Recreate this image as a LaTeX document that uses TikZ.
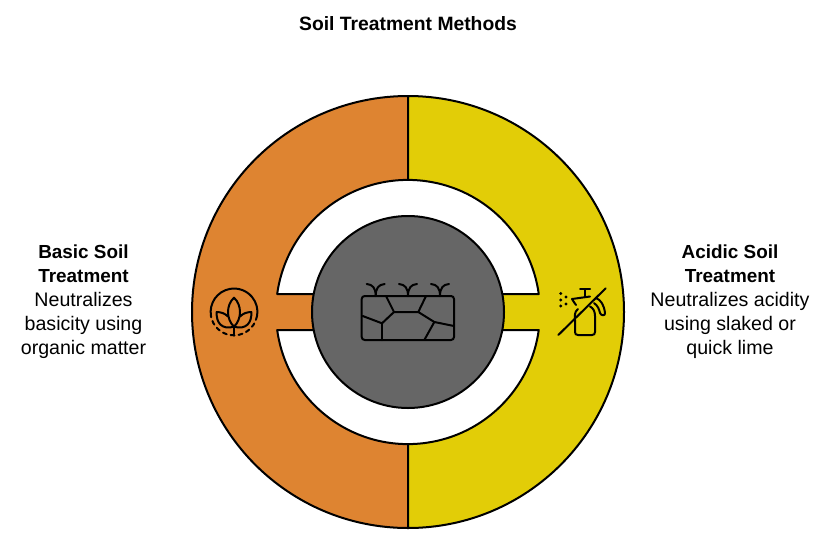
\documentclass[tikz,border=0pt]{standalone}
\usepackage{fontspec}
\setmainfont{Liberation Sans}
\definecolor{orangeseg}{HTML}{DE8431}
\definecolor{yellowseg}{HTML}{E2CD07}
\definecolor{hubgrey}{HTML}{666666}
\newcommand{\bodytxt}{\fontsize{19.6}{24}\selectfont}
\newcommand{\headtxt}{\fontsize{18.9}{24}\selectfont\bfseries}
\tikzset{
  seg/.style={draw=black,line width=2pt,line join=round},
  icon/.style={draw=black,line width=2pt,line cap=round,line join=round},
  lab/.style={align=center,font=\bodytxt,text=black,inner sep=0pt},
}
\begin{document}
\begin{tikzpicture}[x=1pt,y=-1pt]
\useasboundingbox (0,0) rectangle (834,541);
\fill[white] (0,0) rectangle (834,541);
\coordinate (c) at (408,312);
% halves
\path[seg,fill=orangeseg] (408,96) arc[start angle=-90,delta angle=-180,radius=216] -- cycle;
\path[seg,fill=yellowseg] (408,96) arc[start angle=-90,delta angle=180,radius=216] -- cycle;
% white gaps
\path[seg,fill=white] (277.2,294) arc[start angle=187.8,end angle=352.2,radius=132] -- (500,294) -- (316,294) -- cycle;
\path[seg,fill=white] (277.2,330) arc[start angle=172.2,end angle=7.8,radius=132] -- (500,330) -- (316,330) -- cycle;
% hub
\node[circle,draw=black,line width=2pt,fill=hubgrey,minimum size=192pt,inner sep=0pt] (hub) at (c) {};
% soil icon
\draw[icon,rounded corners=3pt] (361.7,296) rectangle (454,340);
\draw[icon] (386,296)--(394,312)--(418.3,312)--(426,296);
\draw[icon] (394,312)--(382,323.3)--(362.7,316);
\draw[icon] (382,323.3)--(382,340);
\draw[icon] (418.3,312)--(434.3,322)--(454,326);
\draw[icon] (434.3,322)--(424.3,340);
\foreach \sx in {375.7,408,440}{
  \draw[icon] (\sx-9,284) .. controls (\sx-3,284.5) and (\sx,288) .. (\sx,296);
  \draw[icon] (\sx+9,284) .. controls (\sx+3,284.5) and (\sx,288) .. (\sx,296);
}
% plant icon
\draw[icon] (211,316) arc[start angle=170,delta angle=200,radius=23.4];
\draw[icon,dash pattern=on 4pt off 4pt] (257,316) arc[start angle=10,delta angle=160,radius=23.4];
\draw[icon] (234,326.7) .. controls (226,319) and (226,305) .. (234,297.7) .. controls (242,305) and (242,319) .. (234,326.7);
\draw[icon] (234,335.7)--(234,326.7);
\draw[icon] (234,326.7) .. controls (222,330) and (216,323) .. (216.7,312) .. controls (221,312) and (225,313.5) .. (228,316.5);
\draw[icon] (234,326.7) .. controls (246,330) and (252,323) .. (251.3,312) .. controls (247,312) and (243,313.5) .. (240,316.5);
% spray icon
\draw[icon] (558.3,335)--(605.7,288.3);
\draw[icon] (580,289)--(590,289);
\draw[icon] (585,289)--(585,297);
\draw[icon] (576,305) .. controls (573,303) and (574,300) .. (572,299) -- (590,296.5);
\draw[icon] (578,309) .. controls (574,312) and (575,316) .. (575,320) -- (575,332) .. controls (575,334) and (576,335) .. (578,335) -- (592,335) .. controls (594,335) and (595,334) .. (595,332) -- (595,316) .. controls (595,311) and (593,308) .. (590,306.5);
\draw[icon] (596,298) .. controls (601,300) and (604,305) .. (605,313) .. controls (605.5,316) and (601,316) .. (600,313) .. controls (599,309) and (598,306) .. (594,303);
\foreach \dx/\dy in {560.7/293.5,566/297,560.7/300,566/304,560.7/306}{
  \fill[black] (\dx,\dy) circle[radius=1.6];
}
% text
\node[lab,font=\fontsize{19.3}{24}\selectfont\bfseries] (title) at (408,24) {Soil Treatment Methods};
\node[lab] (basic) at (83.5,302) {{\headtxt Basic Soil}\\{\headtxt Treatment}\\Neutralizes\\basicity using\\organic matter};
\node[lab] (acidic) at (730,302) {{\headtxt Acidic Soil}\\{\headtxt Treatment}\\Neutralizes acidity\\using slaked or\\quick lime};
\end{tikzpicture}
\end{document}
